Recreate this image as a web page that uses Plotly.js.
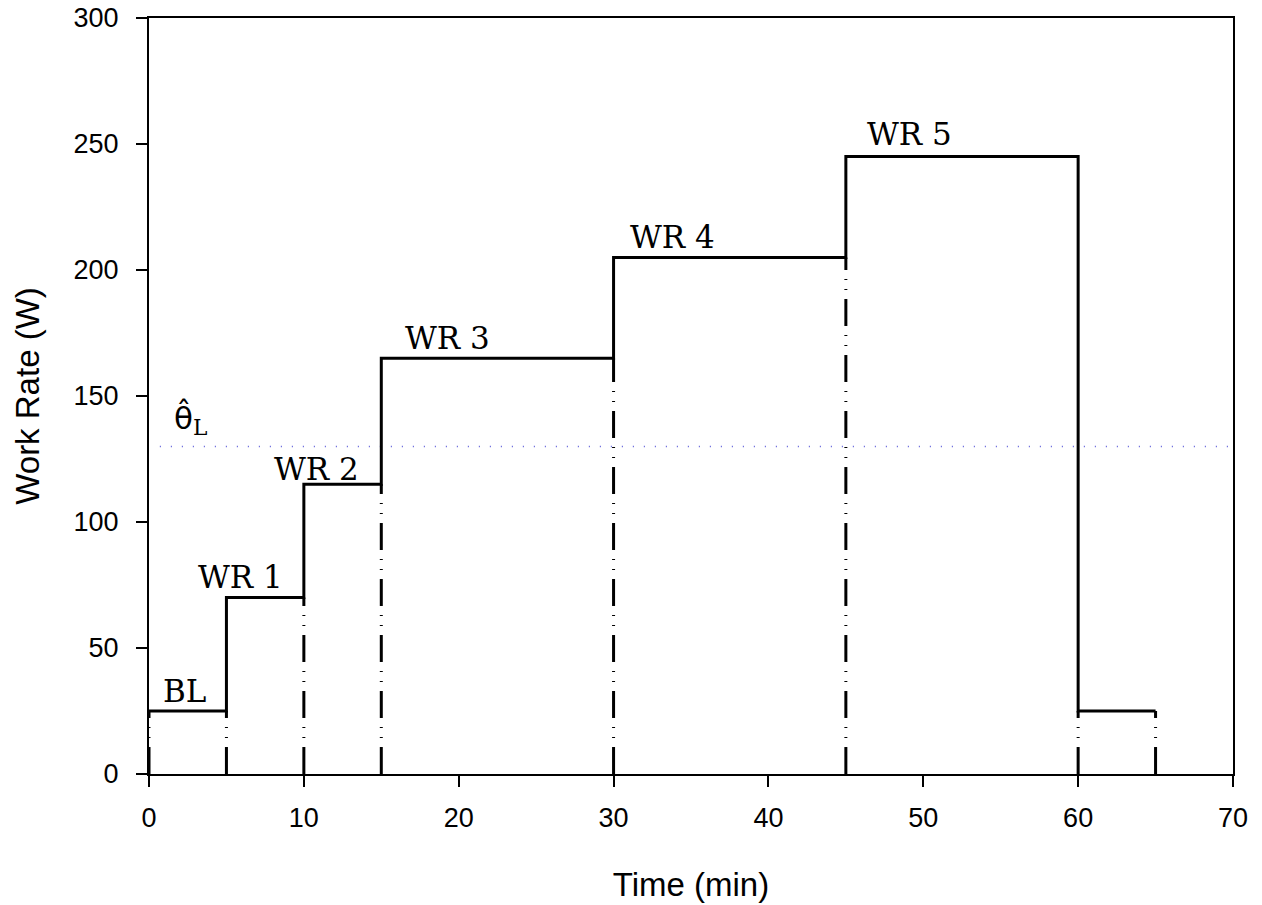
<!DOCTYPE html>
<html>
<head>
<meta charset="utf-8">
<script src="https://cdn.plot.ly/plotly-3.0.1.min.js"></script>
<style>html,body{margin:0;padding:0;background:#fff;}#chart{width:1262px;height:905px;}</style>
</head>
<body>
<div id="chart"></div>
<script>
// Stage boundaries (min) and work rates (W)
const stageStart = [0, 5, 10, 15, 30, 45, 60];
const stageEnd   = [5, 10, 15, 30, 45, 60, 65];
const workRate   = [25, 70, 115, 165, 205, 245, 25];
const stageNames = ['BL', 'WR 1', 'WR 2', 'WR 3', 'WR 4', 'WR 5'];
const labelX     = [2.3, 5.9, 10.8, 19.3, 33.8, 49.1];
const labelY     = [33, 78, 121, 173, 213, 254];
const thetaL     = 130;
const thetaX     = [0.7, 70];
const xTicks     = [0, 10, 20, 30, 40, 50, 60, 70];
const yTicks     = [0, 50, 100, 150, 200, 250, 300];

// step line
const stepX = stageStart.concat([stageEnd[stageEnd.length - 1]]);
const stepY = workRate.concat([workRate[workRate.length - 1]]);

// vertical dash-dot-dot lines at each boundary up to the lower adjacent level
const vx = [], vy = [];
stepX.forEach((b, i) => {
  const before = i > 0 ? workRate[i - 1] : workRate[0];
  const after = i < workRate.length ? workRate[i] : workRate[workRate.length - 1];
  vx.push(b, b, null);
  vy.push(0, Math.min(before, after), null);
});

const traces = [
  {x: thetaX, y: [thetaL, thetaL], mode: 'lines', line: {color: '#5a5ad8', width: 1.5, dash: '1px,10px'}, hoverinfo: 'skip'},
  {x: vx, y: vy, mode: 'lines', line: {color: '#000', width: 3, dash: '27px,9px,1px,9px,1px,9px'}, hoverinfo: 'skip'},
  {x: stepX, y: stepY, mode: 'lines', line: {color: '#000', width: 3, shape: 'hv'}, hoverinfo: 'skip'}
];

const serif = 'DejaVu Serif, serif';
const annotations = stageNames.map((t, i) => ({
  x: labelX[i], y: labelY[i], text: t, showarrow: false,
  xanchor: 'center', yanchor: 'middle',
  font: {family: serif, size: 31, color: '#000'}
}));
annotations.push({
  x: 1.5, y: 141, text: '<span style="font-family:\'DejaVu Sans\'">θ\u0302</span><sub>L</sub>', showarrow: false,
  xanchor: 'left', yanchor: 'middle',
  font: {family: serif, size: 31, color: '#000'}
});

const sans = 'Liberation Sans, Arial, sans-serif';
const layout = {
  width: 1262, height: 905,
  margin: {l: 149, r: 29, t: 18, b: 131},
  paper_bgcolor: '#fff', plot_bgcolor: '#fff',
  showlegend: false,
  font: {family: sans, color: '#000', size: 27},
  xaxis: {
    range: [0, 70], tickvals: xTicks, showgrid: false, zeroline: false,
    showline: true, linecolor: '#000', linewidth: 2, mirror: true,
    ticks: 'outside', ticklen: 11, tickwidth: 2, tickcolor: '#000',
    tickfont: {family: sans, size: 27, color: '#000'}, ticklabelstandoff: 8,
    title: {text: 'Time (min)', font: {family: sans, size: 33, color: '#000'}, standoff: 40}
  },
  yaxis: {
    range: [0, 300], tickvals: yTicks, showgrid: false, zeroline: false,
    showline: true, linecolor: '#000', linewidth: 2, mirror: true,
    ticks: 'outside', ticklen: 11, tickwidth: 2, tickcolor: '#000',
    tickfont: {family: sans, size: 27, color: '#000'}, ticklabelstandoff: 12,
    title: {text: 'Work Rate (W)', font: {family: sans, size: 33, color: '#000'}, standoff: 24}
  },
  annotations: annotations
};

Plotly.newPlot('chart', traces, layout, {displayModeBar: false, staticPlot: true});
</script>
</body>
</html>
